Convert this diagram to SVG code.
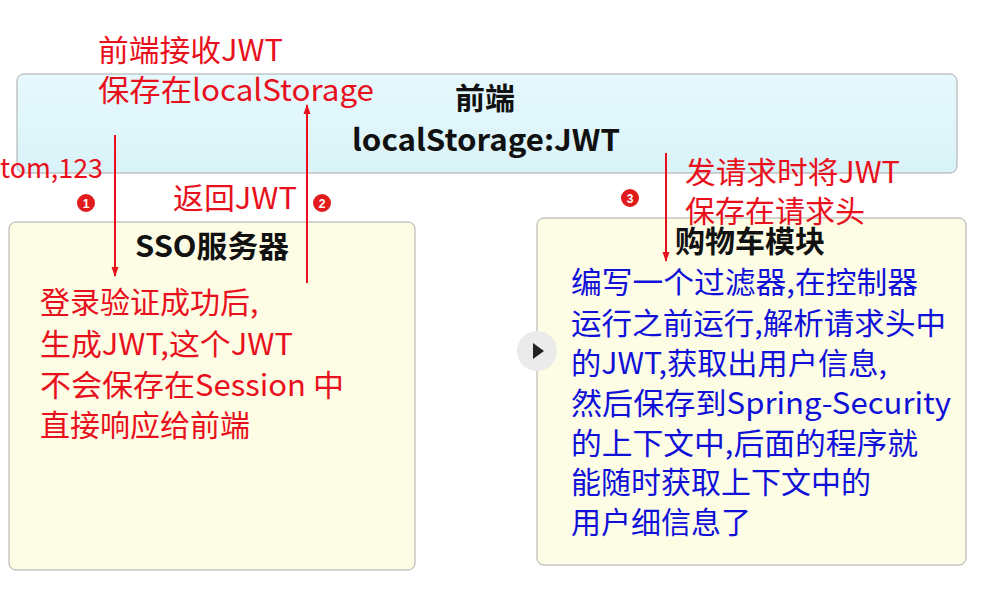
<svg xmlns="http://www.w3.org/2000/svg" width="993" height="593" viewBox="0 0 993 593">
<defs>
<linearGradient id="gTop" x1="0" y1="0" x2="0" y2="1"><stop offset="0" stop-color="#e6f9fc"/><stop offset="1" stop-color="#d9f3f8"/></linearGradient>
<marker id="ahs" viewBox="0 0 10 10" refX="9" refY="5" markerWidth="10" markerHeight="10" markerUnits="userSpaceOnUse" orient="auto"><path d="M0,1.5 L10,5 L0,8.5 z" fill="#e8101c"/></marker>
</defs>
<style>
.box{stroke:#a9a9a9;stroke-width:1}
.ttl{font-family:"Noto Sans CJK SC","Liberation Sans",sans-serif;font-weight:bold;fill:#111}
.red{font-family:"Noto Sans CJK SC","Liberation Sans",sans-serif;fill:#e8101c;font-size:30px}
.blue{font-family:"Noto Sans CJK SC","Liberation Sans",sans-serif;fill:#1010d8;font-size:30px}
.con{stroke:#e8101c;stroke-width:2;fill:none}
.num{font-family:"Liberation Sans",sans-serif;font-weight:bold;font-size:12px;fill:#fff}
</style>
<rect width="993" height="593" fill="#ffffff"/>
<g id="frontend">
<rect class="box" x="17" y="74" width="940" height="99" rx="7" fill="url(#gTop)"/>
<text class="ttl" x="485" y="109" font-size="30" text-anchor="middle">前端</text>
<text class="ttl" x="352" y="151" font-size="30" textLength="268" lengthAdjust="spacingAndGlyphs">localStorage:JWT</text>
</g>
<g id="sso">
<rect class="box" x="9" y="222" width="406" height="348" rx="7" fill="#fdfde5"/>
<text class="ttl" x="135" y="257" font-size="30" textLength="154" lengthAdjust="spacingAndGlyphs">SSO服务器</text>
<text class="red"><tspan x="40" y="313">登录验证成功后,</tspan><tspan x="40" y="355" textLength="253" lengthAdjust="spacingAndGlyphs">生成JWT,这个JWT</tspan><tspan x="40" y="396" textLength="304" lengthAdjust="spacingAndGlyphs">不会保存在Session 中</tspan><tspan x="40" y="436">直接响应给前端</tspan></text>
</g>
<g id="cart">
<rect class="box" x="537" y="218" width="429" height="347" rx="7" fill="#fdfde5"/>
<text class="ttl" x="675" y="252" font-size="30">购物车模块</text>
<text class="blue"><tspan x="571" y="293" textLength="347" lengthAdjust="spacingAndGlyphs">编写一个过滤器,在控制器</tspan><tspan x="571" y="334" textLength="375" lengthAdjust="spacingAndGlyphs">运行之前运行,解析请求头中</tspan><tspan x="571" y="374" textLength="316" lengthAdjust="spacingAndGlyphs">的JWT,获取出用户信息,</tspan><tspan x="571" y="414" textLength="380" lengthAdjust="spacingAndGlyphs">然后保存到Spring-Security</tspan><tspan x="571" y="454" textLength="347" lengthAdjust="spacingAndGlyphs">的上下文中,后面的程序就</tspan><tspan x="571" y="493">能随时获取上下文中的</tspan><tspan x="571" y="533">用户细信息了</tspan></text>
</g>
<g id="connectors">
<line class="con" x1="115" y1="135" x2="115" y2="276" marker-end="url(#ahs)"/>
<line class="con" x1="307" y1="283" x2="307" y2="105" marker-end="url(#ahs)"/>
<line class="con" x1="666" y1="153" x2="666" y2="261" marker-end="url(#ahs)"/>
</g>
<g id="labels">
<text class="red"><tspan x="98" y="61" textLength="185" lengthAdjust="spacingAndGlyphs">前端接收JWT</tspan><tspan x="98" y="101" textLength="276" lengthAdjust="spacingAndGlyphs">保存在localStorage</tspan></text>
<text class="red" x="0" y="178" style="font-size:27px" textLength="103" lengthAdjust="spacingAndGlyphs">tom,123</text>
<text class="red" x="173" y="209" textLength="124" lengthAdjust="spacingAndGlyphs">返回JWT</text>
<text class="red"><tspan x="685" y="183" textLength="215" lengthAdjust="spacingAndGlyphs">发请求时将JWT</tspan><tspan x="685" y="222">保存在请求头</tspan></text>
</g>
<g id="badges">
<circle cx="86" cy="203" r="10" fill="#e11b1b" stroke="#ffffff" stroke-width="2"/>
<text class="num" x="86" y="207.5" text-anchor="middle">1</text>
<circle cx="322" cy="203" r="10" fill="#e11b1b" stroke="#ffffff" stroke-width="2"/>
<text class="num" x="322" y="207.5" text-anchor="middle">2</text>
<circle cx="630" cy="198" r="10" fill="#e11b1b" stroke="#ffffff" stroke-width="2"/>
<text class="num" x="630" y="202.5" text-anchor="middle">3</text>
</g>
<g id="play">
<circle cx="537" cy="351" r="20" fill="#ebebeb"/>
<path d="M533,343 L544,351 L533,359 z" fill="#222"/>
</g>
</svg>
